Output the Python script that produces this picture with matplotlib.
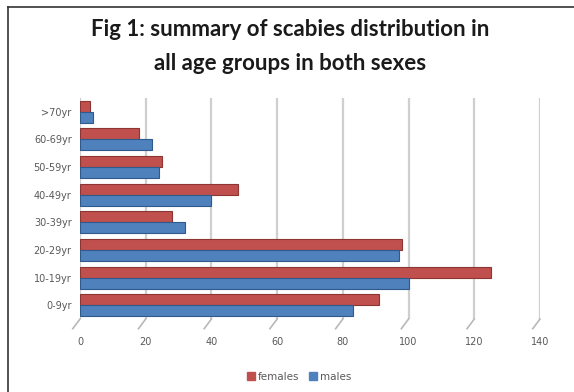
import matplotlib.pyplot as plt
import numpy as np
from matplotlib.lines import Line2D

age_groups = ['0-9yr', '10-19yr', '20-29yr', '30-39yr', '40-49yr', '50-59yr', '60-69yr', '>70yr']
females = [91, 125, 98, 28, 48, 25, 18, 3]
males = [83, 100, 97, 32, 40, 24, 22, 4]
x_ticks = [0, 20, 40, 60, 80, 100, 120, 140]

RED = '#C0504D'
BLUE = '#4F81BD'
GREY = '#595959'

fig = plt.figure(figsize=(5.74, 3.92), dpi=100)
ax = fig.add_axes([80 / 574, 1 - 319 / 392, 460 / 574, 221 / 392])

y = np.arange(len(age_groups))
h = 0.4
ax.barh(y + h / 2, females, height=h, color=RED, edgecolor='#8c3533', linewidth=0.8,
        label='females', zorder=3)
ax.barh(y - h / 2, males, height=h, color=BLUE, edgecolor='#2f5a8c', linewidth=0.8,
        label='males', zorder=3)

# grey "3d" grid lines and floor marks
for v in x_ticks:
    ax.axvline(v, color='#cfcfcf', lw=1.6, zorder=1)
    ax.plot([v, v - 2.2], [-0.5, -0.85], color='#b8b8b8', lw=1.2, clip_on=False)

ax.set_xlim(0, 140)
ax.set_ylim(-0.5, len(age_groups) - 0.5)
ax.set_xticks(x_ticks)
ax.set_yticks(y)
ax.set_yticklabels(age_groups)
ax.tick_params(axis='both', length=0, labelsize=7, labelcolor=GREY)
ax.tick_params(axis='x', pad=13)
ax.tick_params(axis='y', pad=6)
for s in ax.spines.values():
    s.set_visible(False)

fig.text(0.505, 1 - 30 / 392, 'Fig 1: summary of scabies distribution in',
         ha='center', va='center', fontsize=16, fontweight='bold', family='Lato', color='#1a1a1a')
fig.text(0.505, 1 - 63 / 392, 'all age groups in both sexes',
         ha='center', va='center', fontsize=16, fontweight='bold', family='Lato', color='#1a1a1a')

handles = [Line2D([], [], marker='s', ls='', color=RED, markersize=6),
           Line2D([], [], marker='s', ls='', color=BLUE, markersize=6)]
leg = fig.legend(handles, ['females', 'males'], loc='center', bbox_to_anchor=(0.52, 1 - 377 / 392),
                 ncol=2, frameon=False, fontsize=7.5, handletextpad=0.15, columnspacing=0.8,
                 handlelength=1.0)
for t in leg.get_texts():
    t.set_color(GREY)

# frame lines on top and left edge
fig.add_artist(Line2D([8 / 574, 1], [1 - 7 / 392, 1 - 7 / 392], color='#333333', lw=1.2))
fig.add_artist(Line2D([8 / 574, 8 / 574], [0, 1 - 7 / 392], color='#333333', lw=1.2))

fig.savefig('out.png', dpi=100)
